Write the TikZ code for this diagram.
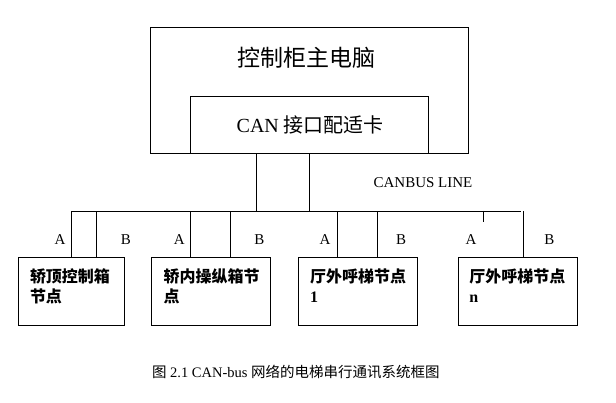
\documentclass[tikz,border=0pt]{standalone}
\usepackage{fontspec}
\setmainfont{Liberation Serif}
\newfontfamily\cjk{Noto Sans CJK SC}
\usetikzlibrary{positioning}

\tikzset{
  nodebox/.style={draw, minimum height=67.7pt, inner sep=0pt},
  boxtext/.style={anchor=north west, align=left, inner sep=0pt,
    font=\fontsize{16}{20.7}\selectfont\cjk\bfseries},
  wirelabel/.style={inner sep=0pt, font=\fontsize{15}{15}\selectfont}
}

\begin{document}
\begin{tikzpicture}[x=1pt, y=-1pt, line width=0.9pt]
        \useasboundingbox (0,0) rectangle (616,403);

        % main computer and CAN card
        \node[draw, minimum width=317.6pt, minimum height=126pt] (pc) at (309.5,90.3) {};
        \node[draw, minimum width=238.3pt, minimum height=56.6pt] (card) at (309.2,125) {};
        \node[font=\fontsize{23}{23}\selectfont\cjk] (pctext) at (306.7,58) {控制柜主电脑};
        \node[font=\fontsize{20}{20}\selectfont] (cardtext) at (310.3,125) {CAN {\cjk 接口配适卡}};

        % bus
        \coordinate (busL) at (71.7,211);
        \coordinate (busR) at (521,211);
        \coordinate (cardH) at ([xshift=-52.5pt]card.south);
        \draw (busL) -- (busR);
        \draw (cardH) -- (cardH |- busL);
        \draw (card.south) -- (card.south |- busL);
        \node[wirelabel] (canbus) at (423,182.3) {CANBUS LINE};

        % bus nodes
        \node[nodebox, minimum width=106pt] (top) at (71.3,291.2) {};
        \node[nodebox, minimum width=118.6pt] (inner) [right=26.4pt of top] {};
        \node[nodebox, minimum width=118.6pt] (hall1) [right=27.4pt of inner] {};
        \node[nodebox, minimum width=118.6pt] (halln) [right=40.4pt of hall1] {};

        \node[boxtext] at ([xshift=11.7pt,yshift=-11pt]top.north west) {轿顶控制箱\\节点};
        \node[boxtext] at ([xshift=12pt,yshift=-11pt]inner.north west) {轿内操纵箱节\\点};
        \node[boxtext] at ([xshift=11.6pt,yshift=-11pt]hall1.north west) {厅外呼梯节点\\{\rmfamily 1}};
        \node[boxtext] at ([xshift=11pt,yshift=-11pt]halln.north west) {厅外呼梯节点\\{\rmfamily n}};

        % drops
        \coordinate (topA) at ([xshift=53.4pt]top.north west);
        \coordinate (topB) at ([xshift=79pt]top.north west);
        \coordinate (innerA) at ([xshift=39.6pt]inner.north west);
        \coordinate (innerB) at ([xshift=79.6pt]inner.north west);
        \coordinate (hall1A) at ([xshift=39.6pt]hall1.north west);
        \coordinate (hall1B) at ([xshift=79pt]hall1.north west);
        \coordinate (hallnA) at ([xshift=25.6pt]halln.north west |- busL);
        \coordinate (hallnB) at ([xshift=65.3pt]halln.north west);
        \draw (topA) -- (topA |- busL);
        \draw (topB) -- (topB |- busL);
        \draw (innerA) -- (innerA |- busL);
        \draw (innerB) -- (innerB |- busL);
        \draw (hall1A) -- (hall1A |- busL);
        \draw (hall1B) -- (hall1B |- busL);
        \draw (hallnA) -- ++(0,11.3);
        \draw (hallnB) -- (hallnB |- busL);

        \node[wirelabel] (topa) at (60,239.3) {A};
        \node[wirelabel] (topb) at (126,239.3) {B};
        \node[wirelabel] (innera) at (179.3,239.3) {A};
        \node[wirelabel] (innerb) at (259.3,239.3) {B};
        \node[wirelabel] (hall1a) at (325,239.3) {A};
        \node[wirelabel] (hall1b) at (401,239.3) {B};
        \node[wirelabel] (hallna) at (471,239.3) {A};
        \node[wirelabel] (hallnb) at (549.3,239.3) {B};

        \node[font=\fontsize{14.5}{14.5}\selectfont] (caption) at (295.9,371.7)
                {{\cjk 图} 2.1 CAN-bus {\cjk 网络的电梯串行通讯系统框图}};
\end{tikzpicture}
\end{document}
